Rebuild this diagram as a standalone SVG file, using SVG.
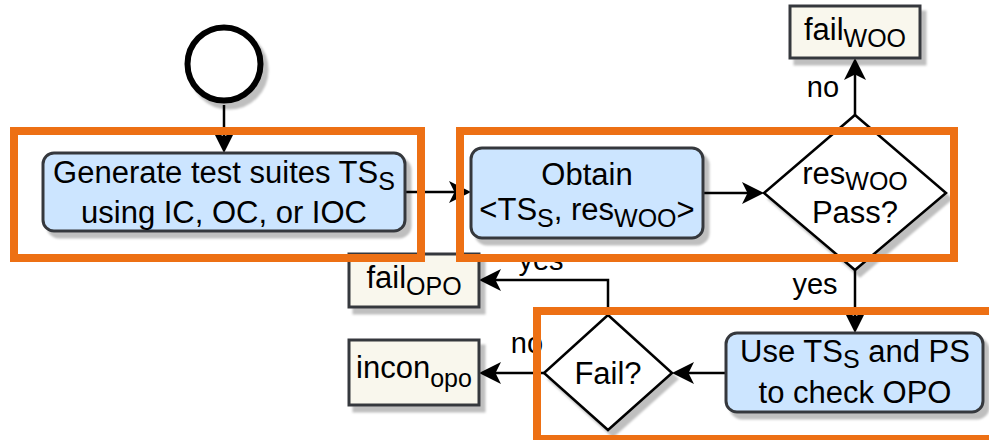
<svg xmlns="http://www.w3.org/2000/svg" width="989" height="440" viewBox="0 0 989 440">
<style>
text{font-family:"Liberation Sans",Arial,sans-serif;fill:#000}
.t{font-size:31px;text-anchor:middle}
.lbl{font-size:29px;text-anchor:middle}
.sub{font-size:25px}
.blue{fill:#cce5ff;stroke:#36393d;stroke-width:3}
.beige{fill:#f9f7ed;stroke:#36393d;stroke-width:3}
.dia{fill:#fff;stroke:#000;stroke-width:2.5}
.edge{fill:none;stroke:#000;stroke-width:2.5}
.hl{fill:none;stroke:#ED7014;stroke-width:8}
</style>
<defs>
<filter id="sh" x="-20%" y="-20%" width="140%" height="140%">
<feDropShadow dx="5" dy="6" stdDeviation="0.8" flood-color="#000" flood-opacity="0.25"/>
</filter>
<marker id="arr" viewBox="0 0 22 22" refX="18" refY="11" markerWidth="22" markerHeight="22" markerUnits="userSpaceOnUse" orient="auto">
<path d="M0,0 L22,11 L0,22 L5.5,11 Z" fill="#000"/>
</marker>
</defs>
<rect width="989" height="440" fill="#fff"/>

<g id="connectors">
<path class="edge" d="M224,105 V149" marker-end="url(#arr)"/>
<path class="edge" d="M405,192 H467" marker-end="url(#arr)"/>
<path class="edge" d="M703,193 H760" marker-end="url(#arr)"/>
<path class="edge" d="M855,115 V62" marker-end="url(#arr)"/>
<path class="edge" d="M855,270 V329" marker-end="url(#arr)"/>
<path class="edge" d="M726,373 H676" marker-end="url(#arr)"/>
<path class="edge" d="M608,315 V280 H483" marker-end="url(#arr)"/>
<path class="edge" d="M544,373 H483" marker-end="url(#arr)"/>
</g>

<g id="start">
<circle cx="224" cy="64" r="36.5" fill="#fff" stroke="#000" stroke-width="6" filter="url(#sh)"/>
</g>

<g id="generate">
<rect class="blue" x="43" y="153" width="362" height="78" rx="11" filter="url(#sh)"/>
<text class="t" x="224" y="183">Generate test suites TS<tspan class="sub" dy="7">S</tspan></text>
<text class="t" x="224" y="223">using IC, OC, or IOC</text>
</g>

<g id="obtain">
<rect class="blue" x="471" y="148" width="232" height="90" rx="11" filter="url(#sh)"/>
<text class="t" x="587" y="185">Obtain</text>
<text class="t" x="587" y="220">&lt;TS<tspan class="sub" dy="7">S</tspan><tspan dy="-7">, res</tspan><tspan class="sub" dy="7">WOO</tspan><tspan dy="-7">&gt;</tspan></text>
</g>

<g id="passq">
<path class="dia" d="M855,115 L946,193 L855,270 L764,193 Z" filter="url(#sh)"/>
<text class="t" x="855" y="184">res<tspan class="sub" dy="6">WOO</tspan></text>
<text class="t" x="855" y="223">Pass?</text>
</g>

<g id="failwoo">
<rect class="beige" x="790" y="6" width="130" height="52" filter="url(#sh)"/>
<text class="t" x="855" y="40">fail<tspan class="sub" dy="7">WOO</tspan></text>
</g>

<g id="usets">
<rect class="blue" x="726" y="333" width="257" height="79" rx="11" filter="url(#sh)"/>
<text class="t" x="855" y="362">Use TS<tspan class="sub" dy="6">S</tspan><tspan dy="-6"> and PS</tspan></text>
<text class="t" x="855" y="403">to check OPO</text>
</g>

<g id="failq">
<path class="dia" d="M608,315 L672,373 L608,430 L544,373 Z" filter="url(#sh)"/>
<text class="t" x="608" y="384">Fail?</text>
</g>

<g id="failopo">
<rect class="beige" x="349" y="254" width="130" height="53" filter="url(#sh)"/>
<text class="t" x="414" y="288">fail<tspan class="sub" dy="7">OPO</tspan></text>
</g>

<g id="incon">
<rect class="beige" x="349" y="340" width="130" height="65" filter="url(#sh)"/>
<text class="t" x="414" y="378">incon<tspan class="sub" dy="9">opo</tspan></text>
</g>

<g id="labels">
<text class="lbl" x="823" y="97">no</text>
<text class="lbl" x="815" y="294">yes</text>
<text class="lbl" x="541" y="270">yes</text>
<text class="lbl" x="527" y="353">no</text>
</g>

<g id="highlights">
<rect class="hl" x="14" y="131" width="407" height="127"/>
<rect class="hl" x="460" y="131" width="494" height="127"/>
<rect class="hl" x="537" y="311" width="460" height="128"/>
</g>
</svg>
